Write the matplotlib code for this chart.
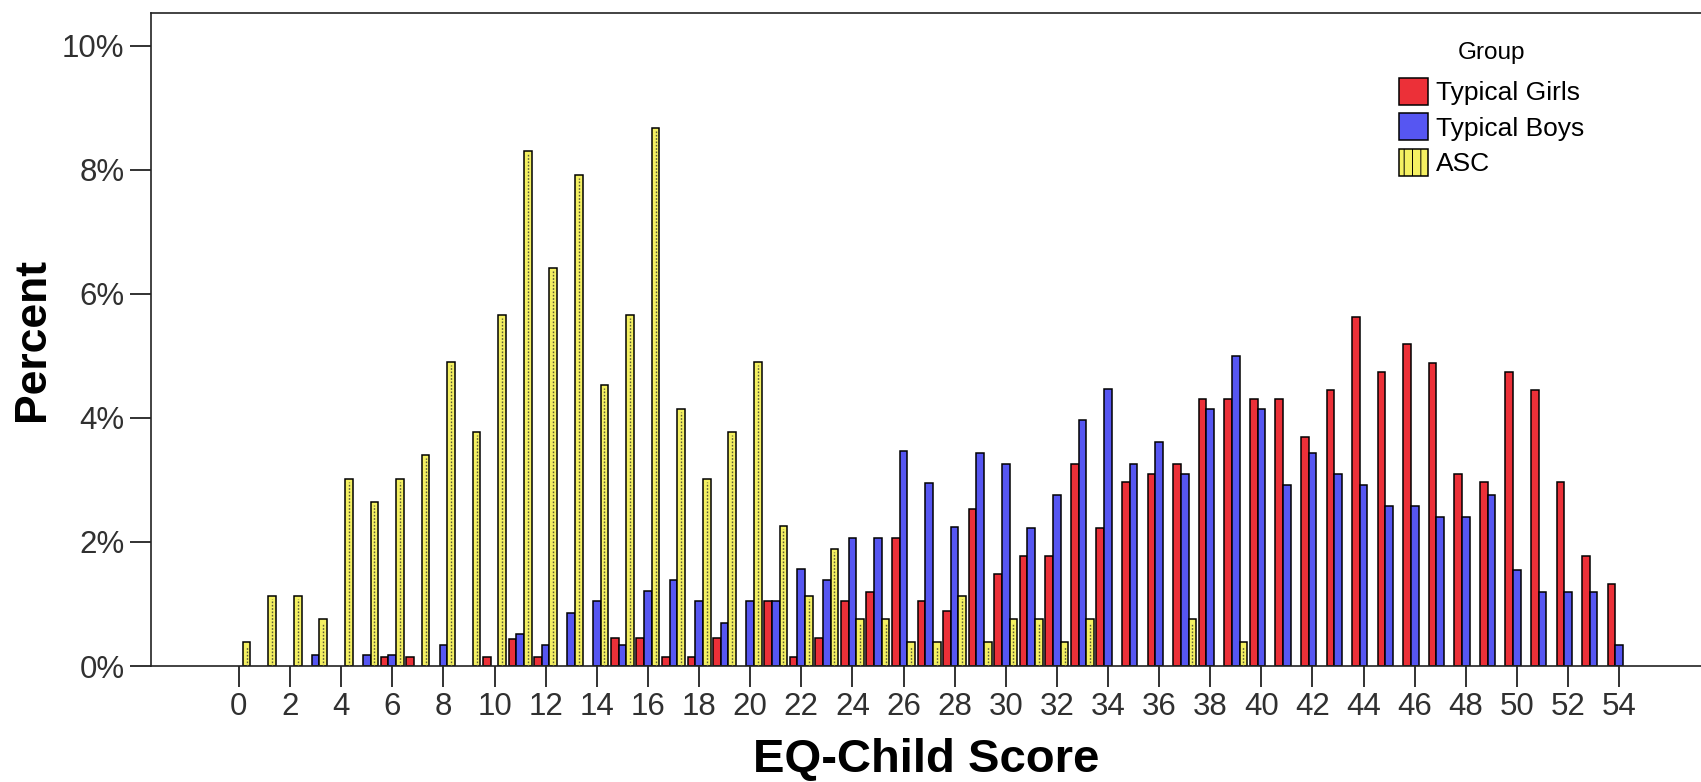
import numpy as np
import matplotlib.pyplot as plt
from matplotlib.patches import Patch
from matplotlib.ticker import FuncFormatter

plt.rcParams['font.family'] = ['Liberation Sans', 'DejaVu Sans']
plt.rcParams['hatch.linewidth'] = 0.7

scores = np.arange(0, 55)

# percent of each group at every EQ-Child score
girls = [0, 0, 0, 0, 0, 0, 0.14, 0.14, 0, 0,
         0.14, 0.44, 0.14, 0, 0, 0.45, 0.45, 0.14, 0.14, 0.45,
         0, 1.05, 0.14, 0.45, 1.05, 1.19, 2.07, 1.05, 0.89, 2.53,
         1.48, 1.78, 1.78, 3.26, 2.23, 2.97, 3.10, 3.26, 4.30, 4.30,
         4.30, 4.30, 3.70, 4.45, 5.63, 4.74, 5.20, 4.89, 3.10, 2.97,
         4.74, 4.45, 2.97, 1.78, 1.33]
boys = [0, 0, 0, 0.17, 0, 0.17, 0.17, 0, 0.34, 0,
        0, 0.52, 0.34, 0.86, 1.05, 0.34, 1.21, 1.38, 1.05, 0.70,
        1.05, 1.05, 1.56, 1.38, 2.07, 2.07, 3.46, 2.95, 2.24, 3.44,
        3.26, 2.23, 2.75, 3.96, 4.47, 3.26, 3.62, 3.10, 4.14, 5.00,
        4.14, 2.92, 3.44, 3.10, 2.92, 2.58, 2.58, 2.40, 2.40, 2.75,
        1.55, 1.19, 1.19, 1.19, 0.34]
asc = [0.38, 1.13, 1.13, 0.75, 3.02, 2.64, 3.02, 3.40, 4.91, 3.77,
       5.66, 8.30, 6.42, 7.92, 4.53, 5.66, 8.68, 4.15, 3.02, 3.77,
       4.91, 2.26, 1.13, 1.89, 0.75, 0.75, 0.38, 0.38, 1.13, 0.38,
       0.75, 0.75, 0.38, 0.75, 0, 0, 0, 0.75, 0, 0.38,
       0, 0, 0, 0, 0, 0, 0, 0, 0, 0,
       0, 0, 0, 0, 0]

group_names = ['Typical Girls', 'Typical Boys', 'ASC']
group_colors = ['#ec3038', '#5656f2', '#f4f062']

fig = plt.figure(figsize=(17.01, 7.82), dpi=100)
ax = fig.add_axes([151/1701, 116/782, 1 - 151/1701, (666 - 13)/782])

w = 0.3
offsets = [-w, 0, w]
for vals, off, col in zip([girls, boys, asc], offsets, group_colors):
    vals = np.array(vals)
    keep = vals > 0
    ax.bar(scores[keep] + off, vals[keep], width=w, color=col,
           edgecolor='black', linewidth=1.1, zorder=2)

# dotted centre line inside the ASC bars
asc_arr = np.array(asc)
keep = asc_arr > 0
ax.vlines(scores[keep] + w, 0, asc_arr[keep] - 0.05, colors='#5a5a3a',
          linestyles=(0, (1.2, 1.2)), linewidth=1.0, zorder=3)

ax.set_xlim(-3.44, 57.2)
ax.set_ylim(0, 10.53)
ax.set_xticks(np.arange(0, 55, 2))
ax.set_yticks(np.arange(0, 11, 2))
ax.yaxis.set_major_formatter(FuncFormatter(lambda v, p: f'{v:.0f}%'))

ax.spines['right'].set_visible(False)
for s in ['left', 'top', 'bottom']:
    ax.spines[s].set_linewidth(1.2)
    ax.spines[s].set_color('#222222')
ax.tick_params(axis='both', length=15, width=1.3, color='#222222',
               labelsize=22.5, labelcolor='#303030', pad=4)

ax.set_ylabel('Percent', fontsize=32, fontweight='bold')
ax.yaxis.set_label_coords(-0.0635, 0.5)
ax.set_xlabel('EQ-Child Score', fontsize=34, fontweight='bold', labelpad=11)

handles = [Patch(facecolor=group_colors[0], edgecolor='black', linewidth=1.1),
           Patch(facecolor=group_colors[1], edgecolor='black', linewidth=1.1),
           Patch(facecolor=group_colors[2], edgecolor='black', linewidth=1.1, hatch='||')]
leg = ax.legend(handles, group_names, title='Group', frameon=False,
                loc='upper left', bbox_to_anchor=(1399/1701, 1 - 42/782),
                bbox_transform=fig.transFigure, borderpad=0, borderaxespad=0,
                fontsize=19, title_fontsize=17.5, handlelength=1.1,
                handleheight=1.2, handletextpad=0.3, labelspacing=0.3)
leg._legend_box.sep = 10

fig.savefig('out.png', dpi=100)
